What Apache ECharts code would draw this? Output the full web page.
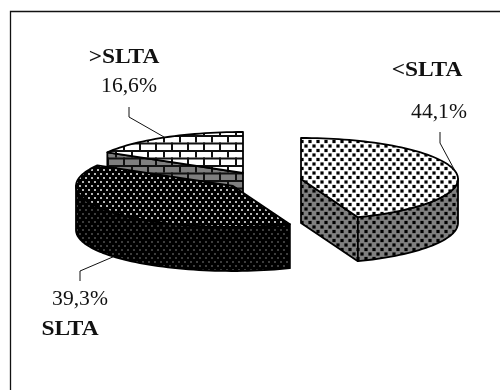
<!DOCTYPE html>
<html>
<head>
<meta charset="utf-8">
<style>html,body{margin:0;padding:0;background:#fff}#chart{width:500px;height:390px}</style>
<script src="https://cdn.jsdelivr.net/npm/echarts@6/dist/echarts.min.js"></script>
</head>
<body>
<div id="chart"></div>
<script>
// Education level shares, listed back to front so nearer wedges paint last.
const categories = ['>SLTA', 'SLTA', '<SLTA'];
const shares = [16.6, 39.3, 44.1];

const RX = 157, RY = 41, DEPTH = 44;
const FONT = 'Liberation Serif';

// Exploded wedge centres and label placement, by category.
const layout = {
  '>SLTA': { c: [243, 173], name: [124, 58], pct: [129, 87], elbow: [[129, 107], [129, 117]], onWall: false },
  'SLTA': { c: [233, 186], name: [70, 330], pct: [80, 300], elbow: [[80, 281], [80, 271]], onWall: true },
  '<SLTA': { c: [301, 179], name: [427, 71], pct: [439, 113], elbow: [[440, 132], [440, 143]], onWall: false }
};

function tile(w, h, paint) {
  const cv = document.createElement('canvas');
  cv.width = w; cv.height = h;
  paint(cv.getContext('2d'));
  return { image: cv, repeat: 'repeat' };
}
// Staggered square dots.
function dots(bg, fg, size, w, h, ox, oy) {
  return tile(w, h, (g) => {
    g.fillStyle = bg; g.fillRect(0, 0, w, h);
    g.fillStyle = fg;
    g.fillRect(ox, oy, size, size);
    g.fillRect(ox + w / 2, oy + h / 2, size, size);
  });
}
function bricks(bg) {
  return tile(16, 15, (g) => {
    g.fillStyle = bg; g.fillRect(0, 0, 16, 15);
    g.fillStyle = '#111';
    g.fillRect(0, 0, 16, 2);
    g.fillRect(0, 7.5, 16, 2);
    g.fillRect(3, 0, 2, 7.5);
    g.fillRect(11, 7.5, 2, 7.5);
  });
}

const fills = {
  '>SLTA': { top: bricks('#fff'), wall: bricks('#7f7f7f') },
  'SLTA': { top: dots('#000', '#b4b4b4', 2, 6, 8, 1, 1), wall: dots('#000', '#3c3c3c', 2, 6, 8, 1, 1) },
  '<SLTA': { top: dots('#fff', '#000', 3.2, 8, 9, 0.4, 0.4), wall: dots('#808080', '#000', 3.2, 8, 9, 0.4, 0.4) }
};

const rad = (d) => d * Math.PI / 180;
const rim = (c, a) => [c[0] + RX * Math.sin(rad(a)), c[1] - RY * Math.cos(rad(a))];
const down = (p) => [p[0], p[1] + DEPTH];
function arc(c, a0, a1) {
  const pts = [];
  const n = Math.max(2, Math.ceil(Math.abs(a1 - a0) / 2));
  for (let i = 0; i <= n; i++) pts.push(rim(c, a0 + (a1 - a0) * i / n));
  return pts;
}

const total = shares.reduce((a, b) => a + b, 0);
// Wedges run counter-clockwise from twelve o'clock in list order.
const spans = [];
shares.reduce((end, v) => {
  const start = end - v / total * 360;
  spans.push([start, end]);
  return start;
}, 360);

function face(points, fill) {
  return {
    type: 'polygon',
    shape: { points },
    style: { fill, stroke: '#000', lineWidth: 1.8, lineJoin: 'round' }
  };
}
function caption(text, pos, bold, scaleX, size) {
  return {
    type: 'text', x: pos[0], y: pos[1], scaleX,
    style: {
      text, x: 0, y: 0, align: 'center', verticalAlign: 'middle', fill: '#111',
      font: (bold ? 'bold ' : '') + size + 'px "' + FONT + '"'
    }
  };
}

function renderItem(params, api) {
  const i = params.dataIndex;
  const name = categories[i];
  const value = api.value(0);
  const [a0, a1] = spans[i];
  const L = layout[name];
  const c = L.c;
  const kids = [];

  // Radial walls that face the viewer.
  if (Math.sin(rad(a0)) < 0) {
    const p = rim(c, a0);
    kids.push(face([c, p, down(p), down(c)], fills[name].wall));
  }
  if (Math.sin(rad(a1)) > 0) {
    const p = rim(c, a1);
    kids.push(face([c, p, down(p), down(c)], fills[name].wall));
  }
  // Outer wall on the near half of the ellipse.
  const lo = Math.max(a0, 90), hi = Math.min(a1, 270);
  if (lo < hi) {
    const top = arc(c, lo, hi);
    kids.push(face(top.concat(top.map(down).reverse()), fills[name].wall));
  }
  // Top face.
  kids.push(face([c].concat(arc(c, a0, a1)), fills[name].top));

  // Leader from the middle of the rim to the percentage label.
  const mid = rim(c, (a0 + a1) / 2);
  const anchor = L.onWall ? down(mid) : mid;
  kids.push({
    type: 'polyline',
    shape: { points: L.elbow.concat([anchor]) },
    style: { fill: 'none', stroke: '#111', lineWidth: 1 }
  });

  kids.push(caption(name, L.name, true, 1.17, 20));
  kids.push(caption(value.toFixed(1).replace('.', ',') + '%', L.pct, false, 1.08, 20));
  return { type: 'group', children: kids };
}

const chart = echarts.init(document.getElementById('chart'), null, { renderer: 'canvas' });
chart.setOption({
  animation: false,
  backgroundColor: '#fff',
  graphic: [{
    type: 'polyline',
    shape: { points: [[10.5, 390], [10.5, 11.5], [500, 11.5]] },
    style: { fill: 'none', stroke: '#111', lineWidth: 1.3 }
  }],
  series: [{
    type: 'custom',
    coordinateSystem: 'none',
    silent: true,
    data: shares.map((v) => [v]),
    renderItem
  }]
});
</script>
</body>
</html>
